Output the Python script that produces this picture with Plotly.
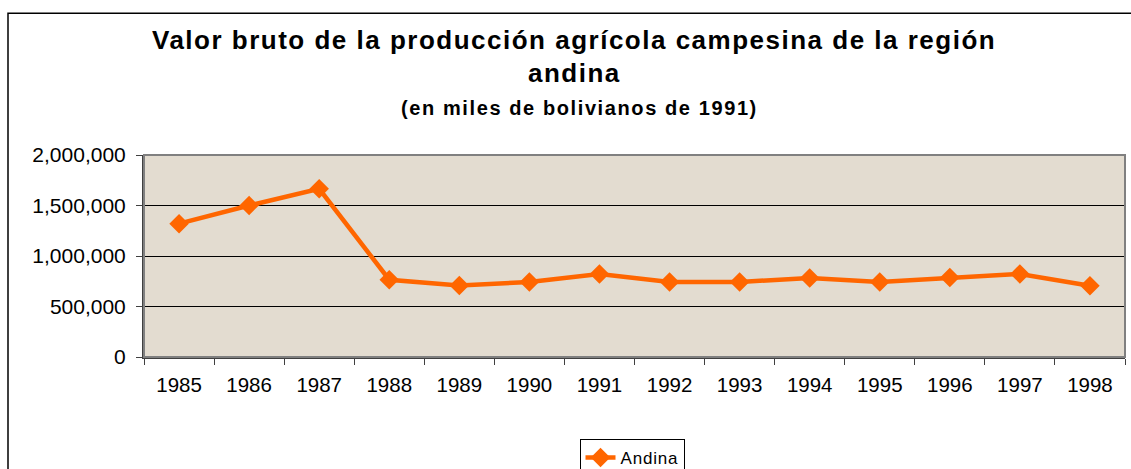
import plotly.graph_objects as go

years = ["1985", "1986", "1987", "1988", "1989", "1990", "1991",
         "1992", "1993", "1994", "1995", "1996", "1997", "1998"]
andina = [1320000, 1500000, 1665000, 765000, 709000, 743000, 822000,
          743000, 743000, 782000, 743000, 788000, 822000, 706000]
y_ticks = [0, 500000, 1000000, 1500000, 2000000]
y_tick_labels = ["0", "500,000", "1,000,000", "1,500,000", "2,000,000"]

FONT = "Liberation Sans, Arial, sans-serif"
ORANGE = "#FF6600"
W, H = 1131, 469

fig = go.Figure()
fig.add_trace(go.Scatter(
    x=years, y=andina, name="<span style='letter-spacing:0.8px'>Andina</span>",
    mode="lines+markers",
    line=dict(color=ORANGE, width=4.5),
    marker=dict(symbol="diamond", size=15, color=ORANGE),
))

PL, PR, PT, PB = 144, 1125, 155, 357.5
PW, PH = PR - PL, PB - PT


def px(x):
    return (x - PL) / PW


def py(y):
    return (PB - y) / PH


fig.update_layout(
    width=W, height=H,
    margin=dict(l=PL, r=W - PR, t=PT, b=H - PB, autoexpand=False),
    paper_bgcolor="white",
    plot_bgcolor="#E3DCD0",
    font=dict(family=FONT, color="black", size=20),
    showlegend=True,
    legend=dict(
        xref="container", yref="container",
        x=632 / W, xanchor="center", y=(H - 439) / H, yanchor="top",
        orientation="h", bordercolor="black", borderwidth=1,
        bgcolor="white", font=dict(size=17, family=FONT),
    ),
    xaxis=dict(
        type="category", range=[-0.5, len(years) - 0.5],
        tickson="boundaries", ticks="outside", ticklen=6,
        tickcolor="#404040", showline=True, linecolor="#404040", linewidth=2,
        mirror=False, showgrid=False, tickfont=dict(size=20.5),
        ticklabelstandoff=8,
    ),
    yaxis=dict(
        range=[0, 2000000], tickvals=y_ticks, ticktext=y_tick_labels,
        ticks="outside", ticklen=6, tickcolor="#404040",
        showline=True, linecolor="#404040", linewidth=2,
        showgrid=True, gridcolor="black", gridwidth=1,
        zeroline=False, tickfont=dict(size=21), ticklabelstandoff=6,
    ),
    shapes=[
        dict(type="rect", xref="paper", yref="paper", x0=0, y0=0, x1=1, y1=1,
             line=dict(color="#808080", width=2), layer="above"),
        dict(type="rect", xref="paper", yref="paper",
             x0=px(8), y0=py(520), x1=px(1160), y1=py(13),
             line=dict(color="black", width=1.5)),
    ],
    annotations=[
        dict(text="<span style='letter-spacing:1.5px'><b>Valor bruto de la producción agrícola campesina de la región</b></span>",
             xref="paper", yref="paper", x=px(574), y=py(40),
             showarrow=False, font=dict(size=26, family=FONT), xanchor="center", yanchor="middle"),
        dict(text="<span style='letter-spacing:1.5px'><b>andina</b></span>",
             xref="paper", yref="paper", x=px(574), y=py(73),
             showarrow=False, font=dict(size=26, family=FONT), xanchor="center", yanchor="middle"),
        dict(text="<span style='letter-spacing:1.6px'><b>(en miles de bolivianos de 1991)</b></span>",
             xref="paper", yref="paper", x=px(579), y=py(108),
             showarrow=False, font=dict(size=20, family=FONT), xanchor="center", yanchor="middle"),
    ],
)

fig.write_html(
    "out.html",
    config={"displayModeBar": False},
    post_script="document.body.style.margin='0';document.body.style.padding='0';",
)
